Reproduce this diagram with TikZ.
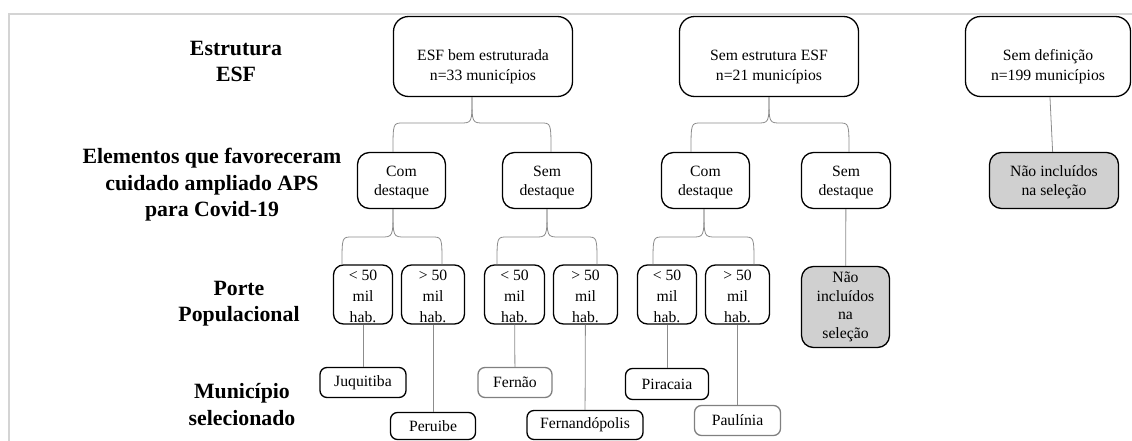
\documentclass[tikz,border=0pt]{standalone}
\usepackage{fontspec}
\setmainfont{Liberation Serif}
\usetikzlibrary{calc}
\definecolor{conncol}{HTML}{8C8C8C}
\definecolor{framecol}{HTML}{D4D4D4}
\definecolor{fillgray}{HTML}{D0D0D0}
\definecolor{softborder}{HTML}{808080}
\newcommand{\bracearm}[3]{%
  \draw[conn] let \p1=(#1), \p2=(#2), \p3=(#3), \n1={sign(\x2-\x1)} in
    (\p1) .. controls (\x1,\y3) .. ({\x1+\n1*12pt},\y3) -- ({\x2-\n1*10pt},\y3) .. controls (\x2,\y3) .. (\p2);}
\begin{document}
\begin{tikzpicture}[x=1pt,y=-1pt,
  box/.style={draw=black, line width=1.3pt, rounded corners=#1, align=center, inner sep=2pt,
    font=\fontsize{15.7}{20}\selectfont},
  box/.default=10pt,
  topbox/.style={box=15pt, minimum width=179pt, minimum height=80pt, text height=60pt, text depth=12pt},
  midbox/.style={box=12pt, minimum height=56pt, font=\fontsize{15.7}{19.5}\selectfont, text height=35pt, text depth=5pt},
  popbox/.style={box=10pt, minimum height=56pt, font=\fontsize{15.7}{21}\selectfont, text height=55pt, text depth=-3pt},
  leafbox/.style={box=7pt, minimum height=30pt},
  softbox/.style={leafbox, draw=softborder},
  greybox/.style={fill=fillgray},
  rowlabel/.style={align=center, font=\bfseries\fontsize{21.8}{26.5}\selectfont, inner sep=0pt},
  conn/.style={draw=conncol, line width=0.8pt}
]
\useasboundingbox (0,0) rectangle (1132,441);
\draw[framecol, line width=2pt] (1132,14) -- (9,14) -- (9,441);

% row labels
\node[rowlabel] (lab1) at (236,61.6) {Estrutura\\ESF};
\node[rowlabel] (lab2) at (212,185) {Elementos que favoreceram\\cuidado ampliado APS\\para Covid-19};
\node[rowlabel] (lab3) at (239,303.5) {Porte\\Populacional};
\node[rowlabel] (lab4) at (242,404.5) {Município\\selecionado};

% level 1
\node[topbox] (esf) at (483,56.5) {ESF bem estruturada\\n=33 municípios};
\node[topbox] (semE) at (769,56.5) {Sem estrutura ESF\\n=21 municípios};
\node[topbox, minimum width=165pt] (semdef) at (1048,56.5) {Sem definição\\n=199 municípios};

% level 2
\node[midbox, minimum width=88pt] (com1) at (401.5,180.5) {Com\\destaque};
\node[midbox, minimum width=89pt] (sem1) at (547,180.5) {Sem\\destaque};
\node[midbox, minimum width=88pt] (com2) at (705.5,180.5) {Com\\destaque};
\node[midbox, minimum width=89pt] (sem2) at (846,180.5) {Sem\\destaque};
\node[midbox, greybox, minimum width=129pt] (naoA) at (1054,180.5) {Não incluídos\\na seleção};

% level 3
\node[popbox, minimum width=59pt] (lt1) at (363,294.5) {< 50\\mil\\hab.};
\node[popbox, minimum width=63pt] (gt1) at (433,294.5) {> 50\\mil\\hab.};
\node[popbox, minimum width=60pt] (lt2) at (514.5,294.5) {< 50\\mil\\hab.};
\node[popbox, minimum width=64pt] (gt2) at (585.5,294.5) {> 50\\mil\\hab.};
\node[popbox, minimum width=59pt] (lt3) at (667,294.5) {< 50\\mil\\hab.};
\node[popbox, minimum width=64pt] (gt3) at (737.5,294.5) {> 50\\mil\\hab.};
\node[box=12pt, greybox, minimum width=88pt, minimum height=81pt, font=\fontsize{15.7}{18.5}\selectfont] (naoB) at (845.5,307) {Não\\incluídos\\na\\seleção};

% level 4
\node[leafbox, minimum width=86pt] (juq) at (363,382.5) {Juquitiba};
\node[leafbox, minimum width=85pt, minimum height=27pt] (per) at (433,426) {Peruibe};
\node[softbox, minimum width=74pt] (fer) at (515,382.5) {Fernão};
\node[leafbox, minimum width=116pt, minimum height=29pt] (ferp) at (585,425) {Fernandópolis};
\node[leafbox, minimum width=83pt, minimum height=31pt] (pir) at (667,384) {Piracaia};
\node[softbox, minimum width=86pt] (pau) at (737.5,420.5) {Paulínia};

% brace levels
\coordinate (L1) at (0,123);
\coordinate (L2) at (0,237);

% brace tips and ends
\coordinate (tA) at ([xshift=-11pt]esf.south);
\coordinate (tB) at (semE.south);
\coordinate (tC) at ([xshift=-8.5pt]com1.south);
\coordinate (tD) at (sem1.south);
\coordinate (tE) at ([xshift=-1.5pt]com2.south);

\bracearm{tA}{[xshift=-8.5pt]com1.north}{L1}
\bracearm{tA}{[xshift=4pt]sem1.north}{L1}
\bracearm{tB}{[xshift=-14.5pt]com2.north}{L1}
\bracearm{tB}{[xshift=3pt]sem2.north}{L1}
\bracearm{tC}{[xshift=-21pt]lt1.north}{L2}
\bracearm{tC}{[xshift=9pt]gt1.north}{L2}
\bracearm{tD}{[xshift=-17.5pt]lt2.north}{L2}
\bracearm{tD}{[xshift=11.5pt]gt2.north}{L2}
\bracearm{tE}{[xshift=-14pt]lt3.north}{L2}
\bracearm{tE}{[xshift=16.5pt]gt3.north}{L2}

% straight connectors
\draw[conn] (semdef) -- (naoA);
\draw[conn] (sem2) -- (naoB);
\draw[conn] (lt1) -- (juq);
\draw[conn] (gt1) -- (per);
\draw[conn] (lt2) -- (fer);
\draw[conn] (gt2) -- (ferp);
\draw[conn] (lt3) -- (pir);
\draw[conn] (gt3) -- (pau);
\end{tikzpicture}
\end{document}
